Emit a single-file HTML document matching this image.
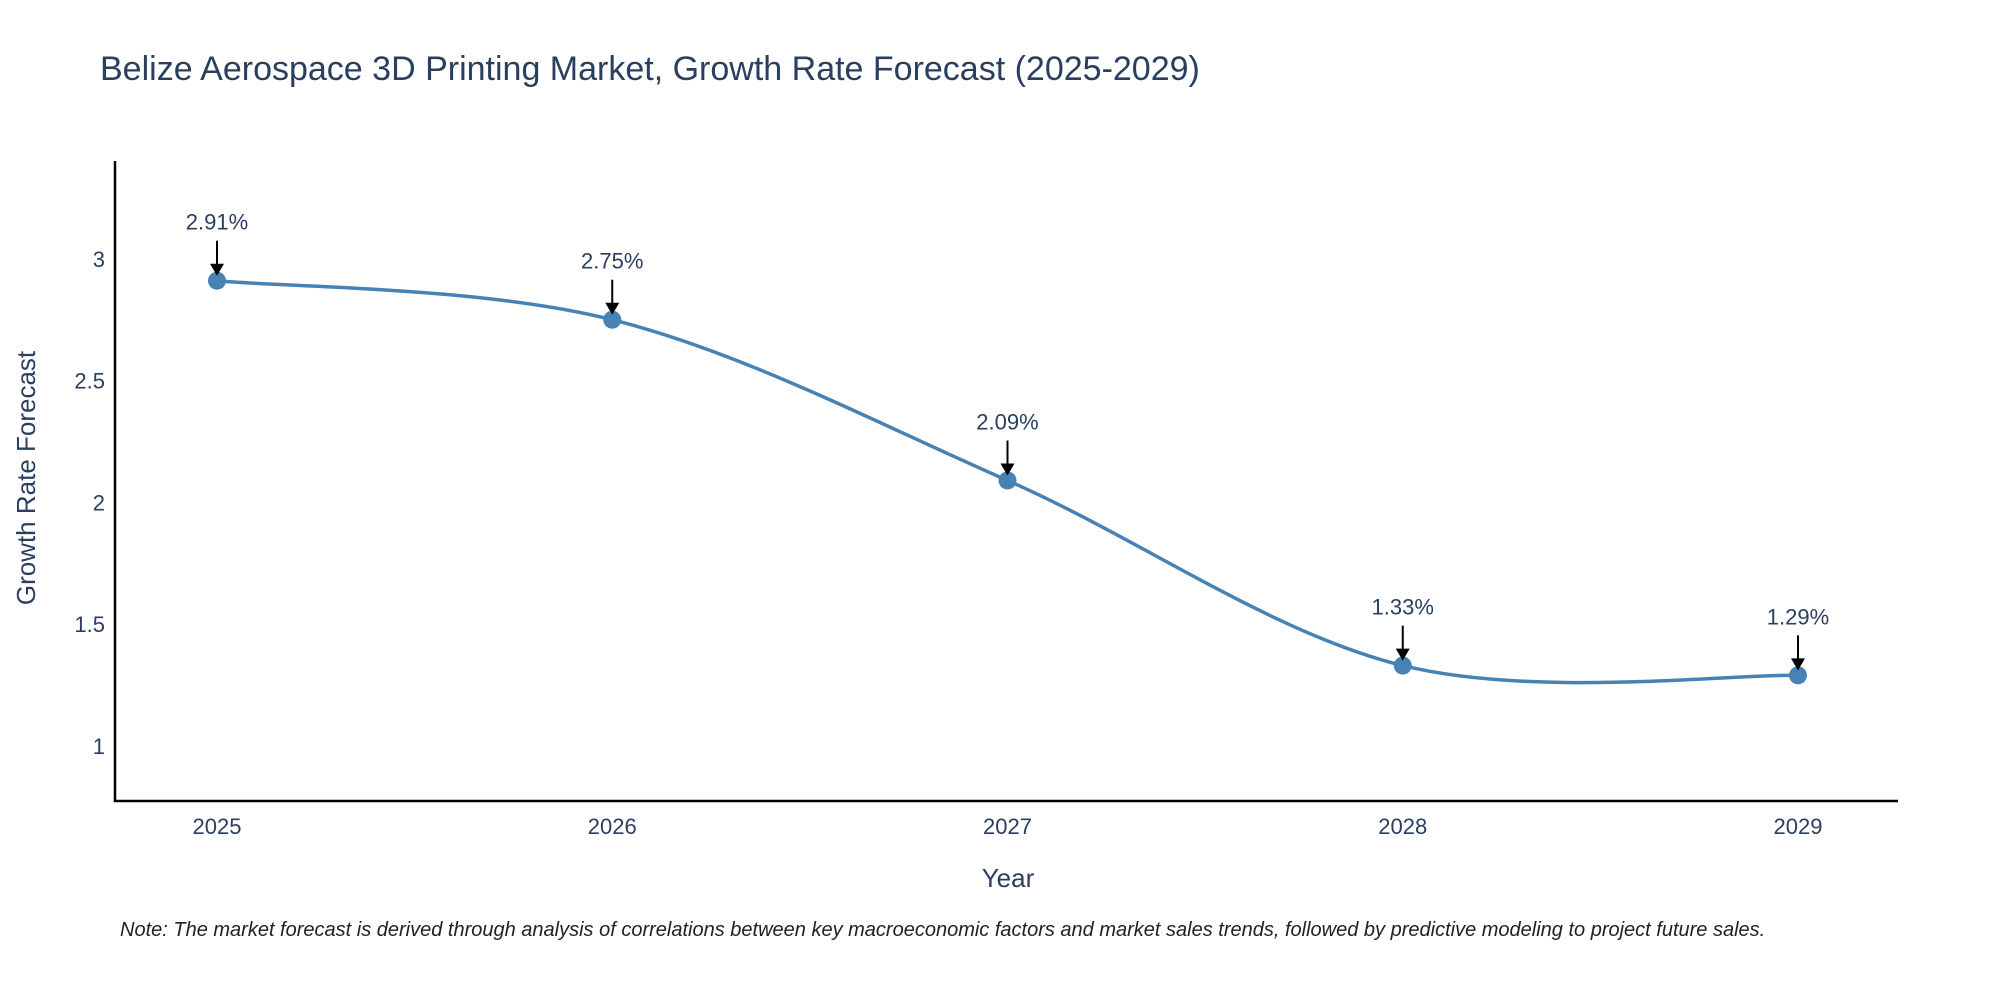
<!DOCTYPE html>
<html><head><meta charset="utf-8"><style>
body{margin:0;background:#fff}
svg{display:block;font-family:"Liberation Sans",sans-serif}
</style></head><body>
<svg id="chart" width="2000" height="1000" viewBox="0 0 2000 1000">
<text x="100" y="80" font-size="34" fill="#2a3f5f">Belize Aerospace 3D Printing Market, Growth Rate Forecast (2025-2029)</text>
<g id="axes"></g>
<g id="marks"></g>
<text x="1008" y="887" font-size="26" fill="#2a3f5f" text-anchor="middle">Year</text>
<text transform="translate(35,478) rotate(-90)" font-size="26" fill="#2a3f5f" text-anchor="middle">Growth Rate Forecast</text>
<text x="120" y="936" font-size="20" font-style="italic" fill="#222">Note: The market forecast is derived through analysis of correlations between key macroeconomic factors and market sales trends, followed by predictive modeling to project future sales.</text>
</svg>
<script>
const years = [2025, 2026, 2027, 2028, 2029];
const values = [2.91, 2.75, 2.09, 1.33, 1.29];
const labels = ["2.91%", "2.75%", "2.09%", "1.33%", "1.29%"];
const yTicks = [1, 1.5, 2, 2.5, 3];

const ns = "http://www.w3.org/2000/svg";
const X0 = 115, X1 = 1898, Y0 = 801, Y1 = 161;
const xs = v => 217 + (v - 2025) * 395.25;
const ys = v => 746 - (v - 1) * 243.6;
function mk(tag, attrs, parent, txt) {
  const e = document.createElementNS(ns, tag);
  for (const k in attrs) e.setAttribute(k, attrs[k]);
  if (txt !== undefined) e.textContent = txt;
  parent.appendChild(e); return e;
}
const axes = document.getElementById('axes'), marks = document.getElementById('marks');
let el = mk('line', {x1: X0, y1: Y1, x2: X0, y2: Y0 + 1, stroke: '#000', 'stroke-width': 2.5}, axes);


el = mk('line', {x1: X0 - 1, y1: Y0, x2: X1, y2: Y0, stroke: '#000', 'stroke-width': 2.5}, axes);


yTicks.forEach(t => {
  const e = mk('text', {x: 105, y: ys(t) + 8, 'font-size': 22, fill: '#2a3f5f', 'text-anchor': 'end'}, axes, String(t));
  
  
});
years.forEach(y => {
  const e = mk('text', {x: xs(y), y: 834, 'font-size': 22, fill: '#2a3f5f', 'text-anchor': 'middle'}, axes, String(y));
  
  
});
const pts = years.map((y, i) => [xs(y), ys(values[i])]);
let d = `M${pts[0][0]},${pts[0][1]}`;
const k = 1 / 6;
for (let i = 0; i < pts.length - 1; i++) {
  const p0 = pts[Math.max(i - 1, 0)], p1 = pts[i], p2 = pts[i + 1], p3 = pts[Math.min(i + 2, pts.length - 1)];
  const c1 = [p1[0] + (p2[0] - p0[0]) * k, p1[1] + (p2[1] - p0[1]) * k];
  const c2 = [p2[0] - (p3[0] - p1[0]) * k, p2[1] - (p3[1] - p1[1]) * k];
  d += ` C${c1[0]},${c1[1]} ${c2[0]},${c2[1]} ${p2[0]},${p2[1]}`;
}
el = mk('path', {d: d, fill: 'none', stroke: '#4682b4', 'stroke-width': 3.5}, marks);


pts.forEach((p, i) => {
  const c = mk('circle', {cx: p[0], cy: p[1], r: 9, fill: '#4682b4'}, marks);
  
  
  const a = mk('line', {x1: p[0], y1: p[1] - 40, x2: p[0], y2: p[1] - 14, stroke: '#000', 'stroke-width': 2}, marks);
  
  
  const h = mk('polygon', {points: `${p[0] - 7},${p[1] - 17} ${p[0] + 7},${p[1] - 17} ${p[0]},${p[1] - 5}`, fill: '#000'}, marks);
  
  
  const t = mk('text', {x: p[0], y: p[1] - 51, 'font-size': 22, fill: '#2a3f5f', 'text-anchor': 'middle'}, marks, labels[i]);
  
  
});
</script>
</body></html>
